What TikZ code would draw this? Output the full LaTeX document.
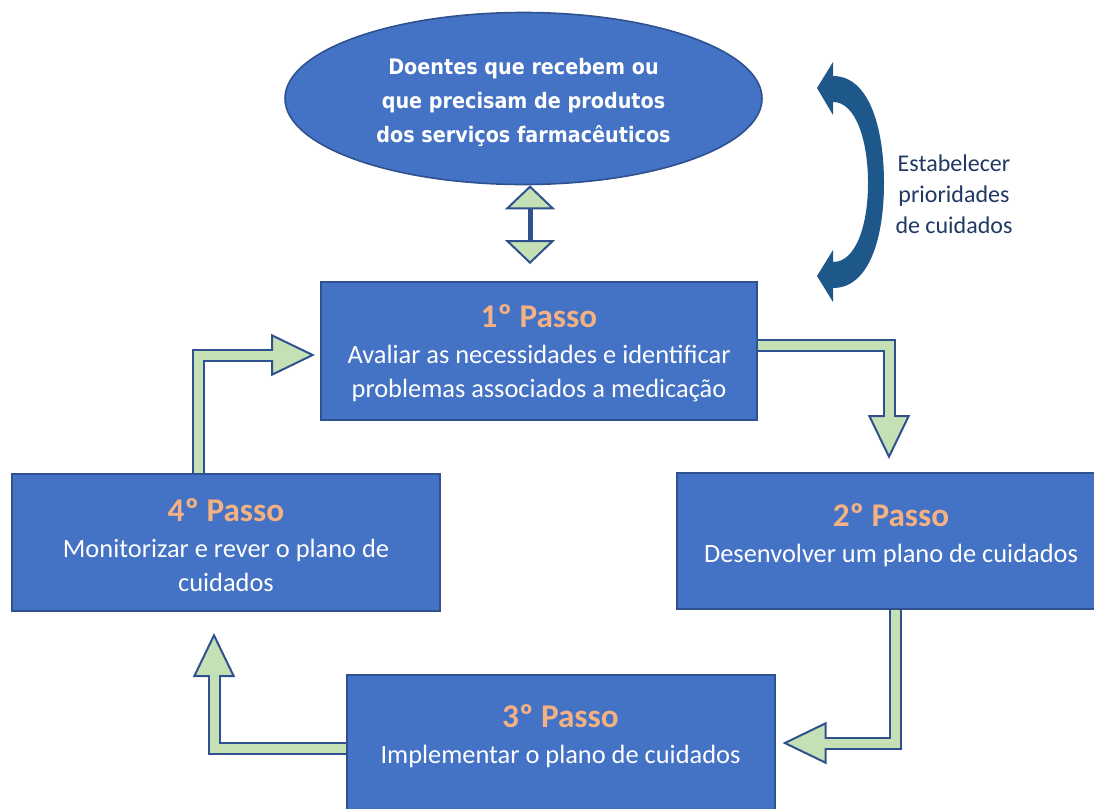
\documentclass[tikz,border=0pt]{standalone}
\usepackage{fontspec}
\setmainfont{Carlito}
\newfontfamily\ovalfont[FakeStretch=0.9]{DejaVu Sans}
\usetikzlibrary{shapes.geometric,arrows.meta}

\definecolor{caixa}{RGB}{68,114,196}
\definecolor{borda}{RGB}{47,82,143}
\definecolor{setaverde}{RGB}{197,224,180}
\definecolor{laranja}{RGB}{244,177,131}
\definecolor{curvaazul}{RGB}{30,88,138}
\definecolor{notaazul}{RGB}{32,56,100}

\newcommand\titulo[1]{{\color{laranja}\bfseries\fontsize{24.9}{30}\selectfont #1}}

\tikzset{every picture/.style={line width=0.75pt}}
\tikzset{
  passo/.style={draw=borda, fill=caixa, line width=1.5pt, text=white, align=center,
    inner sep=0pt, font=\fontsize{19.8}{25.5}\selectfont},
  oval/.style={ellipse, draw=borda, fill=caixa, line width=1.2pt, text=white, align=center,
    inner sep=0pt, minimum width=357.75pt, minimum height=129pt,
    font=\ovalfont\bfseries\fontsize{16}{25.5}\selectfont},
  nota/.style={text=notaazul, align=center, font=\fontsize{18}{23.25}\selectfont},
  seta/.style={draw=borda, line width=9.75pt,
    -{Triangle[length=33pt, width=31.5pt, line width=1.5pt 0, fill=setaverde]}},
  setainner/.style={postaction={draw=setaverde, line width=6.75pt, arrows=-, shorten >=#1}},
  setadupla/.style={draw=borda, line width=3.75pt,
    {Triangle[length=18pt, width=37.5pt, line width=1.5pt 0, fill=setaverde]}-{Triangle[length=18pt, width=37.5pt, line width=1.5pt 0, fill=setaverde]}},
  curva/.style={fill=curvaazul}
}

\begin{document}
\begin{tikzpicture}[x=0.75pt,y=0.75pt,yscale=-1,xscale=1]
\useasboundingbox (0,0) rectangle (1094,808);
\clip (0,0) rectangle (1094,808);

%Oval
\node[oval] (doentes) at (523.5,98.5) {\rule{0pt}{18pt}Doentes que recebem ou\\ que precisam de produtos\\ dos serviços farmacêuticos};

%Steps
\node[passo, minimum width=327pt, minimum height=103.5pt] (passo1) at (539,351) {\rule{0pt}{20.5pt}\titulo{1º Passo}\\[1.5pt] Avaliar as necessidades e identificar\\ problemas associados a medicação};
\node[passo, minimum width=321pt, minimum height=102pt] (passo2) at (891,541) {\titulo{2º Passo}\\[1.5pt] Desenvolver um plano de cuidados\rule[-12.5pt]{0pt}{12.5pt}};
\node[passo, minimum width=321pt, minimum height=102pt] (passo3) at (560.5,743) {\titulo{3º Passo}\\[1.5pt] Implementar o plano de cuidados\rule[-13.25pt]{0pt}{13.25pt}};
\node[passo, minimum width=321pt, minimum height=102.75pt] (passo4) at (226,542.5) {\rule{0pt}{20.5pt}\titulo{4º Passo}\\[1.5pt] Monitorizar e rever o plano de\\ cuidados};

%Side note
\node[nota] (prioridades) at (954,194) {Estabelecer\\ prioridades\\ de cuidados};

%Double arrow
\coordinate (dtop) at ([shift={(6.5,0)}]doentes.south);
\coordinate (dbot) at (dtop |- passo1.north);
\draw[setadupla, shorten >=12.75pt] (dtop) -- (dbot);

%Cycle arrows
\draw[seta, shorten >=9.75pt, setainner=32.25pt] ([shift={(0,-5.5)}]passo1.east) -| ([shift={(-2,0)}]passo2.north);
\draw[seta, shorten >=5.25pt, setainner=27.75pt] ([shift={(4,0)}]passo2.south) |- (passo3.east);
\draw[seta, shorten >=15.75pt, setainner=38.25pt] ([shift={(0,5)}]passo3.west) -| ([shift={(-12,0)}]passo4.south);
\draw[seta, shorten >=3.75pt, setainner=26.25pt] ([shift={(-27.5,0)}]passo4.north) |- ([shift={(0,4)}]passo1.west);

%Curved arrow
\fill[curva] (817,88) -- (833,62) -- (833,76) .. controls (870,76) and (884,130) .. (884,183) .. controls (884,236) and (870,288) .. (833,288) -- (833,302) -- (817,276) -- (833,250) -- (833,262) .. controls (856,262) and (868,225) .. (868,183) .. controls (868,141) and (856,102) .. (833,102) -- (833,115) -- cycle;
\end{tikzpicture}
\end{document}
